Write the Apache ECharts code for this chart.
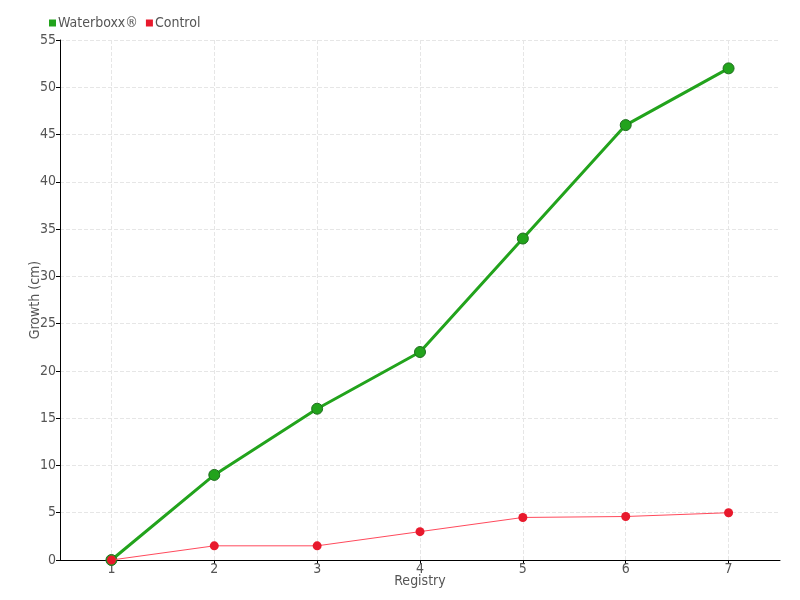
<!DOCTYPE html>
<html>
<head>
<meta charset="utf-8">
<script src="https://cdn.jsdelivr.net/npm/echarts@6/dist/echarts.min.js"></script>
<style>
  html, body { margin: 0; padding: 0; background: #fff; }
  #chart { width: 800px; height: 600px; }
</style>
</head>
<body>
<div id="chart"></div>
<script>
// registry points and growth values (cm)
const registry = ['1', '2', '3', '4', '5', '6', '7']
const waterboxx = [0, 9, 16, 22, 34, 46, 52]
const control = [0, 1.5, 1.5, 3, 4.5, 4.6, 5]

const font = '"DejaVu Sans Condensed", "Liberation Sans Narrow", sans-serif'
const textColor = '#555'

const myChart = echarts.init(document.getElementById('chart'))
const option = {
  animation: false,
  textStyle: { fontFamily: font },
  legend: {
    left: 44,
    top: 11,
    itemWidth: 7,
    itemHeight: 7,
    itemGap: 8,
    icon: 'rect',
    itemStyle: { borderWidth: 0 },
    textStyle: { fontFamily: font, fontSize: 14, color: textColor, padding: [0, 0, 0, -3] },
    data: ['Waterboxx®', 'Control']
  },
  grid: { left: 60, right: 20, top: 40, bottom: 40, outerBoundsMode: 'none' },
  xAxis: {
    type: 'category',
    data: registry,
    boundaryGap: true,
    name: 'Registry',
    nameLocation: 'middle',
    nameGap: 14,
    nameMoveOverlap: false,
    nameTextStyle: { fontFamily: font, fontSize: 14, color: textColor },
    axisLine: { lineStyle: { color: '#000', width: 1 } },
    axisTick: { show: true, alignWithLabel: true, length: 4, inside: false, lineStyle: { color: '#000' } },
    axisLabel: { fontFamily: font, fontSize: 14, color: textColor, margin: 2 },
    splitLine: { show: true, alignWithLabel: true, lineStyle: { type: 'dashed', color: '#e6e6e6' } }
  },
  yAxis: {
    type: 'value',
    min: 0,
    max: 55,
    interval: 5,
    name: 'Growth (cm)',
    nameLocation: 'middle',
    nameGap: 18,
    nameMoveOverlap: false,
    nameTextStyle: { fontFamily: font, fontSize: 14, color: textColor },
    axisLine: { show: true, lineStyle: { color: '#000', width: 1 } },
    axisTick: { show: true, length: 4, lineStyle: { color: '#000' } },
    axisLabel: { fontFamily: font, fontSize: 14, color: textColor, margin: 4 },
    splitLine: { show: true, lineStyle: { type: 'dashed', color: '#e6e6e6' } }
  },
  series: [
    {
      name: 'Waterboxx®',
      type: 'line',
      data: waterboxx,
      symbol: 'circle',
      symbolSize: 11,
      z: 3,
      lineStyle: { color: '#22a31c', width: 3 },
      itemStyle: { color: '#22a31c', borderColor: '#1e6e1e', borderWidth: 1 }
    },
    {
      name: 'Control',
      type: 'line',
      data: control,
      symbol: 'circle',
      symbolSize: 9,
      z: 4,
      lineStyle: { color: '#ff4a5c', width: 1 },
      itemStyle: { color: '#e8192c' }
    }
  ]
}
myChart.setOption(option)
</script>
</body>
</html>
